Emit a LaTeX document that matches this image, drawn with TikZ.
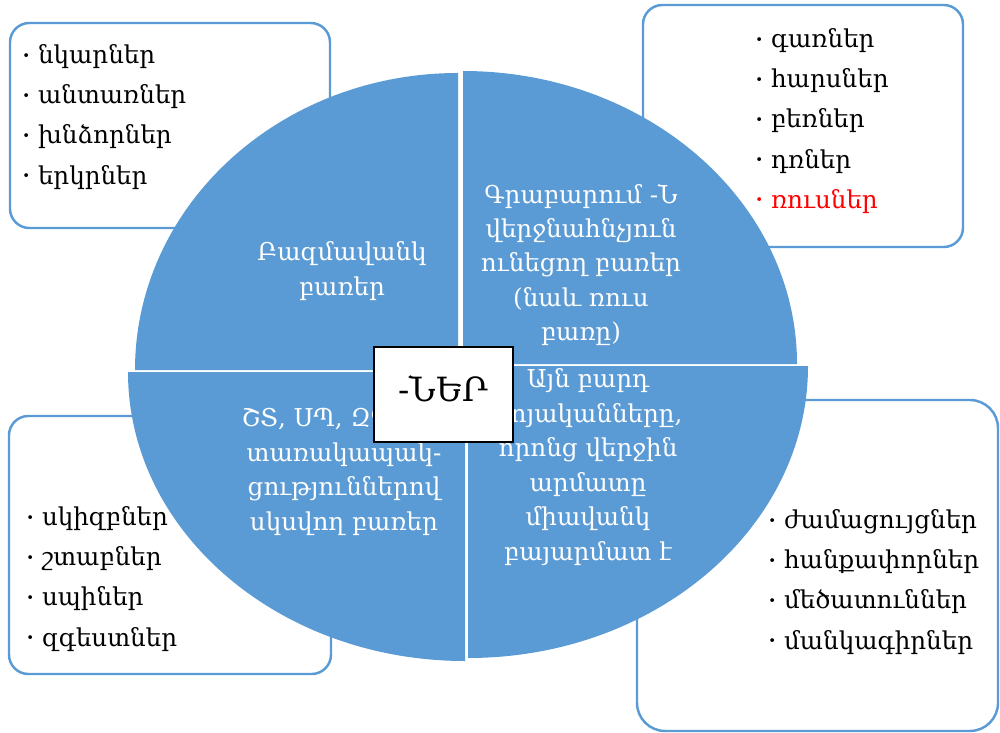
\documentclass[tikz,border=0pt]{standalone}
\usepackage{fontspec}
\setmainfont{DejaVu Serif}
\definecolor{segblue}{HTML}{5B9BD5}
\tikzset{
  listbox/.style={draw=segblue, line width=1.4pt, fill=white, rounded corners=11pt},
  segment/.style={fill=segblue},
  segtext/.style={text=white, align=center, inner sep=0pt, font=\fontsize{14}{19.6}\selectfont},
  listtext/.style={align=left, anchor=west, inner sep=0pt, font=\fontsize{14}{22.8}\selectfont},
  centerbox/.style={draw=black, fill=white, line width=0.9pt, minimum width=2.78cm, minimum height=1.9cm, inner sep=0pt, text height=14pt, text depth=6pt, font=\fontsize{19}{22}\selectfont}
}
\newcommand{\bul}{{\fontsize{7.5}{7.5}\selectfont\raisebox{.55ex}{•}}\hspace{4.5pt}}
\begin{document}
\begin{tikzpicture}[x=0.02cm, y=-0.02cm]
\useasboundingbox (0,0) rectangle (1000,733);
%% the four list boxes, behind the circle
\draw [listbox] (10,23) rectangle (330,228);
\draw [listbox] (643,5) rectangle (963,247);
\draw [listbox] (9,416) rectangle (331,674);
\draw [listbox, rounded corners=16pt] (637,400) rectangle (998,731);

%% the four segments of the circle
\fill [segment] (458,370) -- (135,370) arc [start angle=180, end angle=270, x radius=323, y radius=297] -- cycle;
\fill [segment] (463,364) -- (463,71) arc [start angle=270, end angle=360, x radius=334, y radius=293] -- cycle;
\fill [segment] (468,366) -- (808,366) arc [start angle=0, end angle=90, x radius=340, y radius=292] -- cycle;
\fill [segment] (465,372) -- (465,661) arc [start angle=90, end angle=180, x radius=337, y radius=289] -- cycle;

%% segment texts
\node [segtext] (many) at (342,271) {Բազմավանկ\\բառեր};
\node [segtext] (grabar) at (581,265) {Գրաբարում -Ն\\վերջնահնչյուն\\ունեցող բառեր\\(նաև ռուս\\բառը)};
\node [segtext] (compound) at (588,467) {Այն բարդ\\գոյականները,\\որոնց վերջին\\արմատը\\միավանկ\\բայարմատ է};
\node [segtext] (cluster) at (344,472) {ՇՏ, ՍՊ, ԶԳ, ՍԿ\\տառակապակ-\\ցություններով\\սկսվող բառեր};

%% word lists
\node [listtext] (listA) at (22,117) {\bul նկարներ\\\bul անտառներ\\\bul խնձորներ\\\bul երկրներ};
\node [listtext] (listB) at (755,121) {\bul գառներ\\\bul հարսներ\\\bul բեռներ\\\bul դռներ\\\textcolor{red}{\bul ռուսներ}};
\node [listtext] (listC) at (26,579) {\bul սկիզբներ\\\bul շտաբներ\\\bul սպիներ\\\bul զգեստներ};
\node [listtext] (listD) at (768,582) {\bul ժամացույցներ\\\bul հանքափորներ\\\bul մեծատուններ\\\bul մանկագիրներ};

%% the ending in the middle
\node [centerbox] (ner) at (443.5,394.5) {-ՆԵՐ};
\end{tikzpicture}
\end{document}
